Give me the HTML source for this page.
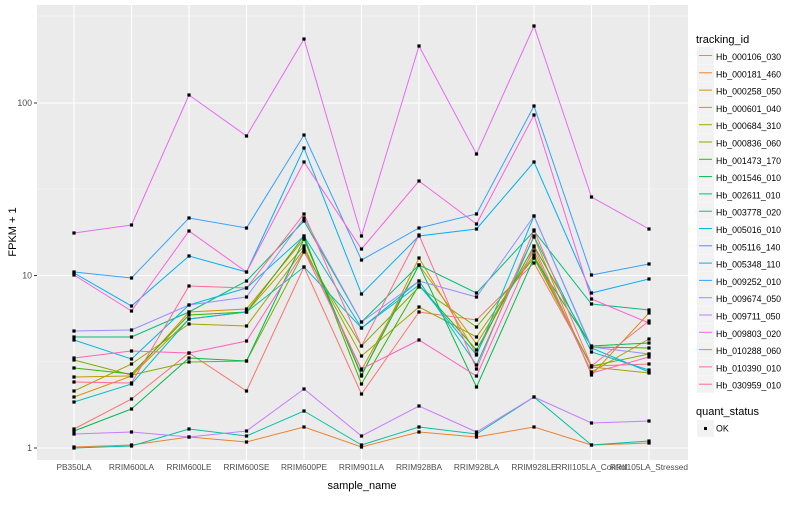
<!DOCTYPE html>
<html><head><meta charset="utf-8"><style>
body{margin:0;background:#fff;}
svg text{font-family:"Liberation Sans",sans-serif;}
</style></head><body>
<svg id="s" width="800" height="500" xmlns="http://www.w3.org/2000/svg">
<rect x="0" y="0" width="800" height="500" fill="#fff"/>
<rect x="37" y="5" width="651" height="455" fill="#ebebeb"/>
<g stroke="#f5f5f5" stroke-width="0.6">
<line x1="37" x2="688" y1="16" y2="16"/><line x1="37" x2="688" y1="189" y2="189"/><line x1="37" x2="688" y1="361.5" y2="361.5"/>
</g>
<g stroke="#fff" stroke-width="1.1">
<line x1="37" x2="688" y1="103" y2="103"/><line x1="37" x2="688" y1="275.5" y2="275.5"/><line x1="37" x2="688" y1="448" y2="448"/>
<line x1="74" x2="74" y1="5" y2="460"/><line x1="131.5" x2="131.5" y1="5" y2="460"/><line x1="189" x2="189" y1="5" y2="460"/><line x1="246.5" x2="246.5" y1="5" y2="460"/><line x1="304" x2="304" y1="5" y2="460"/><line x1="361.5" x2="361.5" y1="5" y2="460"/><line x1="419" x2="419" y1="5" y2="460"/><line x1="476.5" x2="476.5" y1="5" y2="460"/><line x1="534" x2="534" y1="5" y2="460"/><line x1="591.5" x2="591.5" y1="5" y2="460"/><line x1="649" x2="649" y1="5" y2="460"/>
</g>
<g id="data"></g>
<g stroke="#333" stroke-width="1">
<line x1="34" x2="37" y1="103" y2="103"/><line x1="34" x2="37" y1="275.5" y2="275.5"/><line x1="34" x2="37" y1="448" y2="448"/>
</g>
<g font-size="8.8" fill="#4d4d4d" text-anchor="end">
<text x="32" y="106">100</text><text x="32" y="278.5">10</text><text x="32" y="451">1</text>
</g>
<g font-size="8.3" fill="#4d4d4d" text-anchor="middle">
<text x="74" y="470">PB350LA</text><text x="131.5" y="470">RRIM600LA</text><text x="189" y="470">RRIM600LE</text><text x="246.5" y="470">RRIM600SE</text><text x="304" y="470">RRIM600PE</text><text x="361.5" y="470">RRIM901LA</text><text x="419" y="470">RRIM928BA</text><text x="476.5" y="470">RRIM928LA</text><text x="534" y="470">RRIM928LE</text><text x="591.5" y="470">RRII105LA_Control</text><text x="649" y="470">RRII105LA_Stressed</text>
</g>
<text x="362" y="489" font-size="11" text-anchor="middle" fill="#000">sample_name</text>
<text x="16" y="232" font-size="11" text-anchor="middle" fill="#000" transform="rotate(-90 16 232)">FPKM + 1</text>
<text x="696" y="43" font-size="11" fill="#000">tracking_id</text>
<g font-size="8.8" fill="#000" id="leg">
<text x="716" y="60">Hb_000106_030</text><text x="716" y="77.3">Hb_000181_460</text><text x="716" y="94.6">Hb_000258_050</text><text x="716" y="111.9">Hb_000601_040</text><text x="716" y="129.2">Hb_000684_310</text><text x="716" y="146.5">Hb_000836_060</text><text x="716" y="163.8">Hb_001473_170</text><text x="716" y="181.1">Hb_001546_010</text><text x="716" y="198.4">Hb_002611_010</text><text x="716" y="215.7">Hb_003778_020</text><text x="716" y="233">Hb_005016_010</text><text x="716" y="250.3">Hb_005116_140</text><text x="716" y="267.6">Hb_005348_110</text><text x="716" y="284.9">Hb_009252_010</text><text x="716" y="302.2">Hb_009674_050</text><text x="716" y="319.5">Hb_009711_050</text><text x="716" y="336.8">Hb_009803_020</text><text x="716" y="354.1">Hb_010288_060</text><text x="716" y="371.4">Hb_010390_010</text><text x="716" y="388.7">Hb_030959_010</text>
</g>
<text x="696" y="415" font-size="11" fill="#000">quant_status</text>
<rect x="697" y="420" width="17" height="17" fill="#f2f2f2"/>
<rect x="704" y="427" width="3" height="3" fill="#000"/>
<text x="716" y="431.5" font-size="8.8" fill="#000">OK</text>
</svg>
<script>
var X=[74,131.5,189,246.5,304,361.5,419,476.5,534,591.5,649];
var S=[
["#F8766D",[429,399,353,391,267,394,312,320,263,366,364]],
["#EA8331",[447,445,437,442,427,447,432,437,427,445,443]],
["#D89000",[397,376,312,309,239,376,258,354,237,375,313]],
["#C09B00",[377,376,319,312,246,370,265,344,251,372,339]],
["#A3A500",[391,364,324,326,249,356,307,337,255,367,373]],
["#7CAE00",[360,375,362,361,252,346,287,327,258,366,354]],
["#39B600",[368,374,315,312,236,384,285,350,246,347,348]],
["#00BB4E",[431,409,358,361,239,375,265,387,258,346,343]],
["#00BF7D",[337,337,312,281,221,322,265,293,231,304,310]],
["#00C1A3",[448,446,429,436,411,445,427,434,397,445,441]],
["#00BFC4",[402,384,319,312,267,328,281,365,236,352,370]],
["#00BAE0",[340,359,305,288,236,328,285,355,216,348,372]],
["#00B0F6",[273,306,256,272,148,294,236,229,162,293,279]],
["#35A2FF",[272,278,218,228,135,260,228,214,106,275,264]],
["#9590FF",[331,330,305,297,218,322,281,297,216,347,354]],
["#C77CFF",[434,432,437,431,389,436,406,432,397,423,421]],
["#E76BF3",[233,225,95,136,39,236,46,154,26,197,229]],
["#FA62DB",[275,311,231,272,162,249,181,224,115,299,323]],
["#FF62BC",[358,351,353,341,251,369,340,376,247,373,357]],
["#FF6C91",[382,383,286,288,214,346,235,369,230,366,321]]];
var g=document.getElementById('data'),h='',p='';
S.forEach(function(s){var pts=s[1].map(function(y,i){return X[i]+','+y;}).join(' ');
h+='<polyline points="'+pts+'" fill="none" stroke="'+s[0]+'" stroke-width="1"/>';
s[1].forEach(function(y,i){p+='<rect x="'+(X[i]-1.6)+'" y="'+(y-1.6)+'" width="3.2" height="3.2" fill="#000"/>';});});
var l='';S.forEach(function(s,i){var y=47+i*17.3;l+='<rect x="697" y="'+y+'" width="17" height="17" fill="#f2f2f2"/><line x1="699" x2="712" y1="'+(y+8.5)+'" y2="'+(y+8.5)+'" stroke="'+s[0]+'" stroke-width="1"/>';});
g.innerHTML=h+p+l;
</script>
</body></html>
